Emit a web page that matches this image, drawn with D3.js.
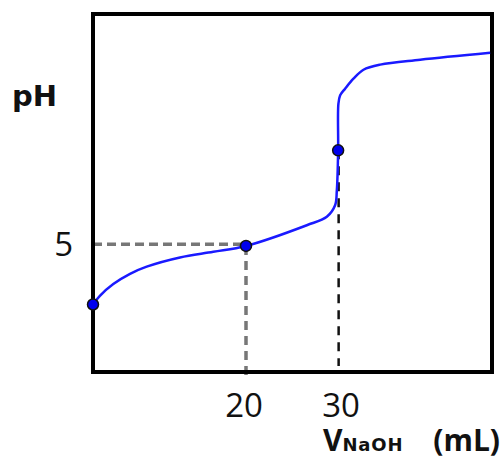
<!DOCTYPE html>
<html>
<head>
<meta charset="utf-8">
<script src="https://cdn.jsdelivr.net/npm/d3@7"></script>
<style>
  body { margin: 0; background: #fff; }
</style>
</head>
<body>
<script>
// titration curve: volume of NaOH (mL) vs pH
var curveV  = [0, 0.9, 2.65, 4.84, 7.02, 11.37, 15.73, 20, 26.6, 28.77, 29.67, 29.86, 30, 30.03, 30.22, 30.76, 31.66, 32.75, 34.57, 38.91, 46.5];
var curvePH = [2.64, 2.98, 3.44, 3.84, 4.12, 4.48, 4.70, 4.93, 5.74, 6.07, 6.52, 7.11, 8.67, 10.49, 10.82, 11.08, 11.47, 11.82, 12.02, 12.21, 12.48];
// marked points: start, half-equivalence, equivalence
var markV  = [0, 20, 30];
var markPH = [2.64, 4.93, 8.67];
var xTicks = [20, 30];
var yTicks = [5];

var width = 502, height = 462;
// plot frame edges ("top" is taken by window.top, so prefix them)
var pLeft = 93, pRight = 492, pTop = 14, pBottom = 372;

var svg = d3.select("body").append("svg")
  .attr("width", width)
  .attr("height", height);

// x is squeezed between 0 and 20 (schematic drawing)
var x = d3.scaleLinear().domain([0, 20, 46.7]).range([pLeft, 246, pRight]);
var y = d3.scaleLinear().domain([0, 14]).range([pBottom, pTop]);

var pts = curveV.map(function(v, i) { return [v, curvePH[i]]; });

// dashed guide lines
svg.append("line")
  .attr("x1", pLeft).attr("x2", x(20))
  .attr("y1", y(yTicks[0])).attr("y2", y(yTicks[0]))
  .attr("stroke", "#777").attr("stroke-width", 3.5)
  .attr("stroke-dasharray", "9,5");
svg.append("line")
  .attr("x1", x(20)).attr("x2", x(20))
  .attr("y1", y(markPH[1])).attr("y2", pBottom + 7)
  .attr("stroke", "#777").attr("stroke-width", 3.5)
  .attr("stroke-dasharray", "9,6");
svg.append("line")
  .attr("x1", x(30) + 0.5).attr("x2", x(30) + 0.5)
  .attr("y1", y(markPH[2])).attr("y2", pBottom - 6)
  .attr("stroke", "#111").attr("stroke-width", 2.5)
  .attr("stroke-dasharray", "9,7");

// frame
svg.append("rect")
  .attr("x", pLeft).attr("y", pTop)
  .attr("width", pRight - pLeft).attr("height", pBottom - pTop)
  .attr("fill", "none")
  .attr("stroke", "#000")
  .attr("stroke-width", 4);

// the curve
var line = d3.line()
  .x(function(d) { return x(d[0]); })
  .y(function(d) { return y(d[1]); })
  .curve(d3.curveCatmullRom.alpha(0.5));
svg.append("path")
  .datum(pts)
  .attr("d", line)
  .attr("fill", "none")
  .attr("stroke", "#1a1aff")
  .attr("stroke-width", 2.5);

svg.selectAll("circle.mark")
  .data(markV).enter().append("circle")
  .attr("class", "mark")
  .attr("cx", function(d) { return x(d); })
  .attr("cy", function(d, i) { return y(markPH[i]); })
  .attr("r", 5.5)
  .attr("fill", "#0000ee")
  .attr("stroke", "#111")
  .attr("stroke-width", 1.5);

// tick labels
svg.selectAll("text.xt")
  .data(xTicks).enter().append("text")
  .attr("class", "xt")
  .attr("x", function(d) { return x(d); })
  .attr("dx", function(d) { return d == 20 ? -2 : 3; })
  .attr("y", pBottom + 45)
  .attr("text-anchor", "middle")
  .attr("font-family", "Open Sans")
  .attr("font-size", 33)
  .attr("fill", "#111")
  .text(function(d) { return d; });
svg.selectAll("text.yt")
  .data(yTicks).enter().append("text")
  .attr("class", "yt")
  .attr("x", 73)
  .attr("y", function(d) { return y(d) + 12; })
  .attr("text-anchor", "end")
  .attr("font-family", "Open Sans")
  .attr("font-size", 33)
  .attr("fill", "#111")
  .text(function(d) { return d; });

// axis titles
svg.append("text")
  .attr("x", 12).attr("y", 106)
  .attr("font-family", "DejaVu Sans")
  .attr("font-weight", "bold")
  .attr("font-size", 29)
  .attr("fill", "#111")
  .text("pH");

var xt = svg.append("text")
  .attr("x", 323).attr("y", 451)
  .attr("font-family", "Open Sans")
  .attr("font-weight", "bold")
  .attr("font-size", 30)
  .attr("fill", "#111");
xt.append("tspan").text("V");
xt.append("tspan")
  .attr("font-family", "DejaVu Sans")
  .attr("font-size", 18)
  .attr("letter-spacing", 0.8)
  .text("NaOH");
xt.append("tspan").attr("dx", 30).text("(mL)");
</script>
</body>
</html>
